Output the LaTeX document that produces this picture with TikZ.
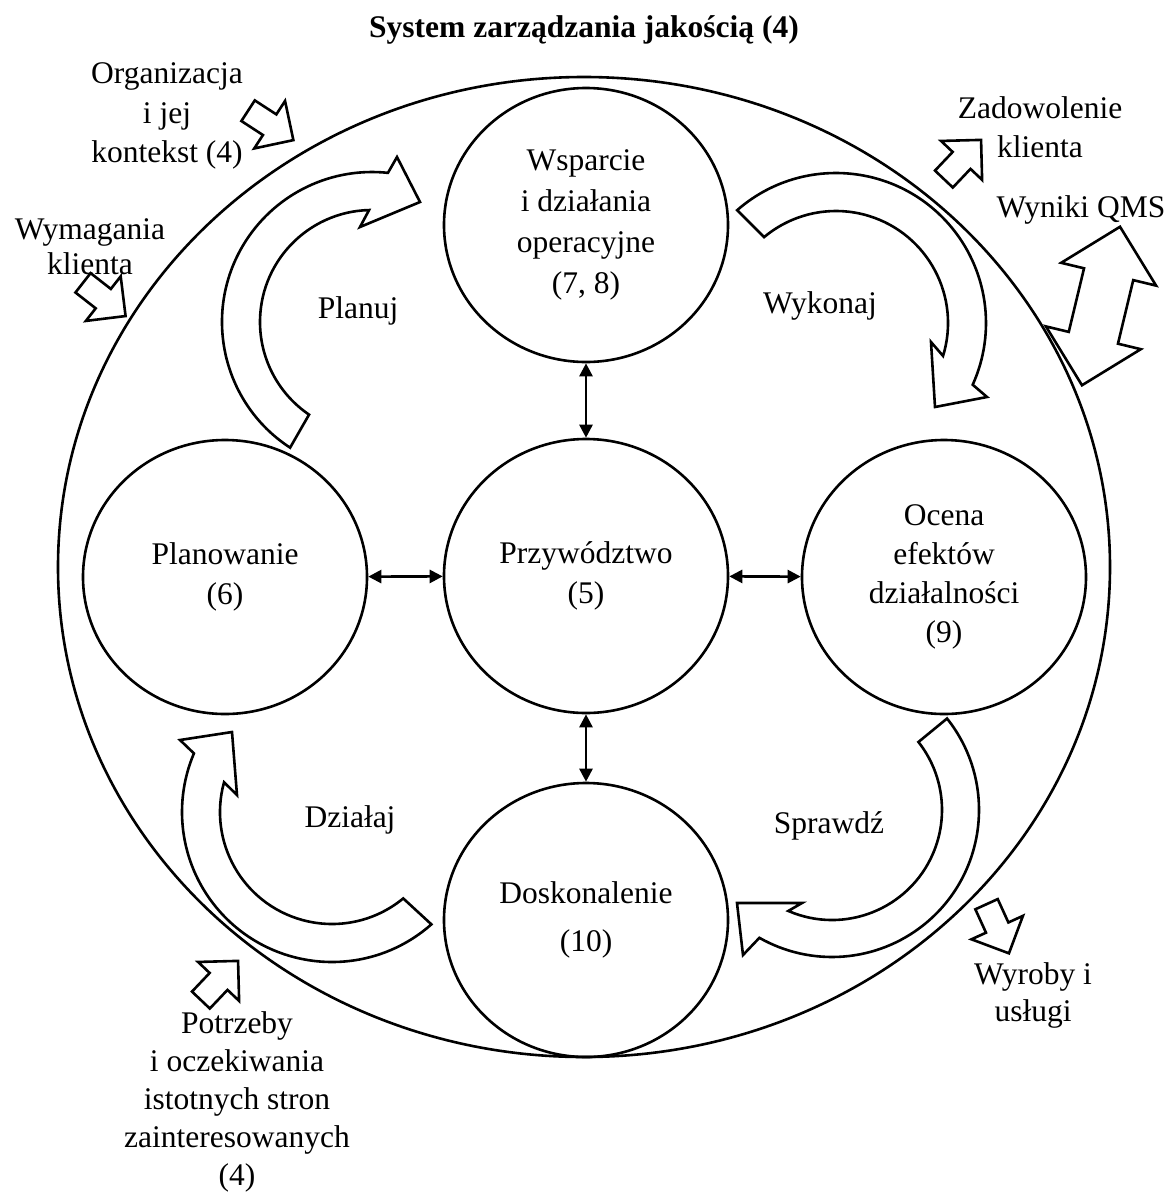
\documentclass[tikz,border=0pt]{standalone}
\usepackage{fontspec}
\setmainfont{Liberation Serif}
\usetikzlibrary{shapes.geometric,shapes.arrows,arrows.meta,calc}

\begin{document}
\begin{tikzpicture}[x=1pt,y=1pt,
  every node/.style={font=\fontsize{31.5}{39.5}\selectfont},
  textblock/.style={align=center},
  stage/.style={draw, ellipse, line width=2.6pt, minimum width=284pt,
    minimum height=274pt, inner sep=0pt, align=center},
  link/.style={line width=2.6pt,
    {Triangle[length=13pt,width=13pt]}-{Triangle[length=13pt,width=13pt]}},
  cyclearrow/.style={draw, line width=2.6pt, line join=miter},
  inarrow/.style={draw, single arrow, line width=2.6pt,
    single arrow tip angle=90, single arrow head extend=16pt,
    minimum height=54pt, minimum width=0pt, inner xsep=0pt,
    inner ysep=11pt, anchor=tail},
  twoway/.style={draw, double arrow, line width=2.6pt,
    double arrow tip angle=90, double arrow head extend=23.5pt,
    minimum height=163pt, minimum width=0pt, inner xsep=0pt,
    inner ysep=24pt}
]
\useasboundingbox (0,0) rectangle (1167,-1195);

% title
\node[font=\bfseries\fontsize{31.5}{39.5}\selectfont] (title) at (584,-30)
  {System zarządzania jakością (4)};

% outer boundary of the system
\node[draw, ellipse, line width=2.6pt, minimum width=1052pt,
  minimum height=980pt] (qms) at (584,-567) {};

% the five stages
\node[stage, font=\fontsize{31.5}{41}\selectfont] (wsp) at (586,-225)
  {Wsparcie\\i działania\\operacyjne\\(7, 8)};
\node[stage] (prz) at (586,-576) {Przywództwo\\(5)};
\node[stage] (pla) at (225,-577) {Planowanie\\(6)};
\node[stage, font=\fontsize{31.5}{39}\selectfont] (oce) at (944,-577)
  {Ocena\\efektów\\działalności\\(9)};
\node[stage, font=\fontsize{31.5}{48}\selectfont] (dos) at (586,-920)
  {Doskonalenie\\(10)};

% links with leadership
\draw[link] (wsp) -- (prz);
\draw[link] (prz) -- (dos);
\draw[link] (pla) -- (prz);
\draw[link] (prz) -- (oce);

% PDCA cycle arrows
\draw[cyclearrow] ($(372,-322)+(236.9:150)$)
  arc[start angle=236.9, end angle=83.9, radius=150]
  -- (397,-157) -- (420,-202) -- (360,-227)
  -- ($(372,-322)+(91.5:112)$)
  arc[start angle=91.5, end angle=235.8, radius=112] -- cycle;
\draw[cyclearrow] ($(836,-323)+(131.2:150)$)
  arc[start angle=131.2, end angle=-24.3, radius=150]
  -- (987,-397) -- (935,-407) -- (931,-342)
  -- ($(836,-323)+(-17.1:112)$)
  arc[start angle=-17.1, end angle=129.9, radius=112] -- cycle;
\draw[cyclearrow] ($(832,-810)+(38.5:147)$)
  arc[start angle=38.5, end angle=-119.6, radius=147]
  -- (743,-955) -- (737,-903) -- (802,-903)
  -- ($(832,-810)+(-113.4:110)$)
  arc[start angle=-113.4, end angle=38.2, radius=110] -- cycle;
\draw[cyclearrow] ($(332,-812)+(-48.5:150)$)
  arc[start angle=-48.5, end angle=-203, radius=150]
  -- (180,-740) -- (232,-732) -- (237,-795)
  -- ($(332,-812)+(-195.4:112)$)
  arc[start angle=-195.4, end angle=-50.5, radius=112] -- cycle;

\node (planuj) at (358,-311) {Planuj};
\node (wykonaj) at (820,-306) {Wykonaj};
\node (dzialaj) at (350,-820) {Działaj};
\node (sprawdz) at (829,-826) {Sprawdź};

% inputs and outputs
\node[textblock] (org) at (167,-116) {Organizacja\\i jej\\kontekst (4)};
\node[textblock, font=\fontsize{31.5}{35}\selectfont] (wym) at (90,-247)
  {Wymagania\\klienta};
\node[textblock] (zad) at (1040,-127) {Zadowolenie\\klienta};
\node (wyn) at (1081,-210) {Wyniki QMS};
\node[textblock, font=\fontsize{31.5}{38}\selectfont] (potrz) at (237,-1102)
  {Potrzeby\\i oczekiwania\\istotnych stron\\zainteresowanych\\(4)};
\node[textblock, font=\fontsize{31.5}{37}\selectfont] (wyr) at (1033,-995)
  {Wyroby i\\usługi};

\node[inarrow, rotate=-33] (aorg) at (247,-110) {};
\node[inarrow, rotate=-38] (awym) at (82,-282) {};
\node[inarrow, rotate=46.5] (azad) at (943,-180) {};
\node[inarrow, rotate=46.5] (apotrz) at (200,-1001) {};
\node[inarrow, rotate=-65.5] (awyr) at (986,-903) {};
\node[twoway, rotate=76.5] (awyn) at (1101,-306) {};
\end{tikzpicture}
\end{document}
